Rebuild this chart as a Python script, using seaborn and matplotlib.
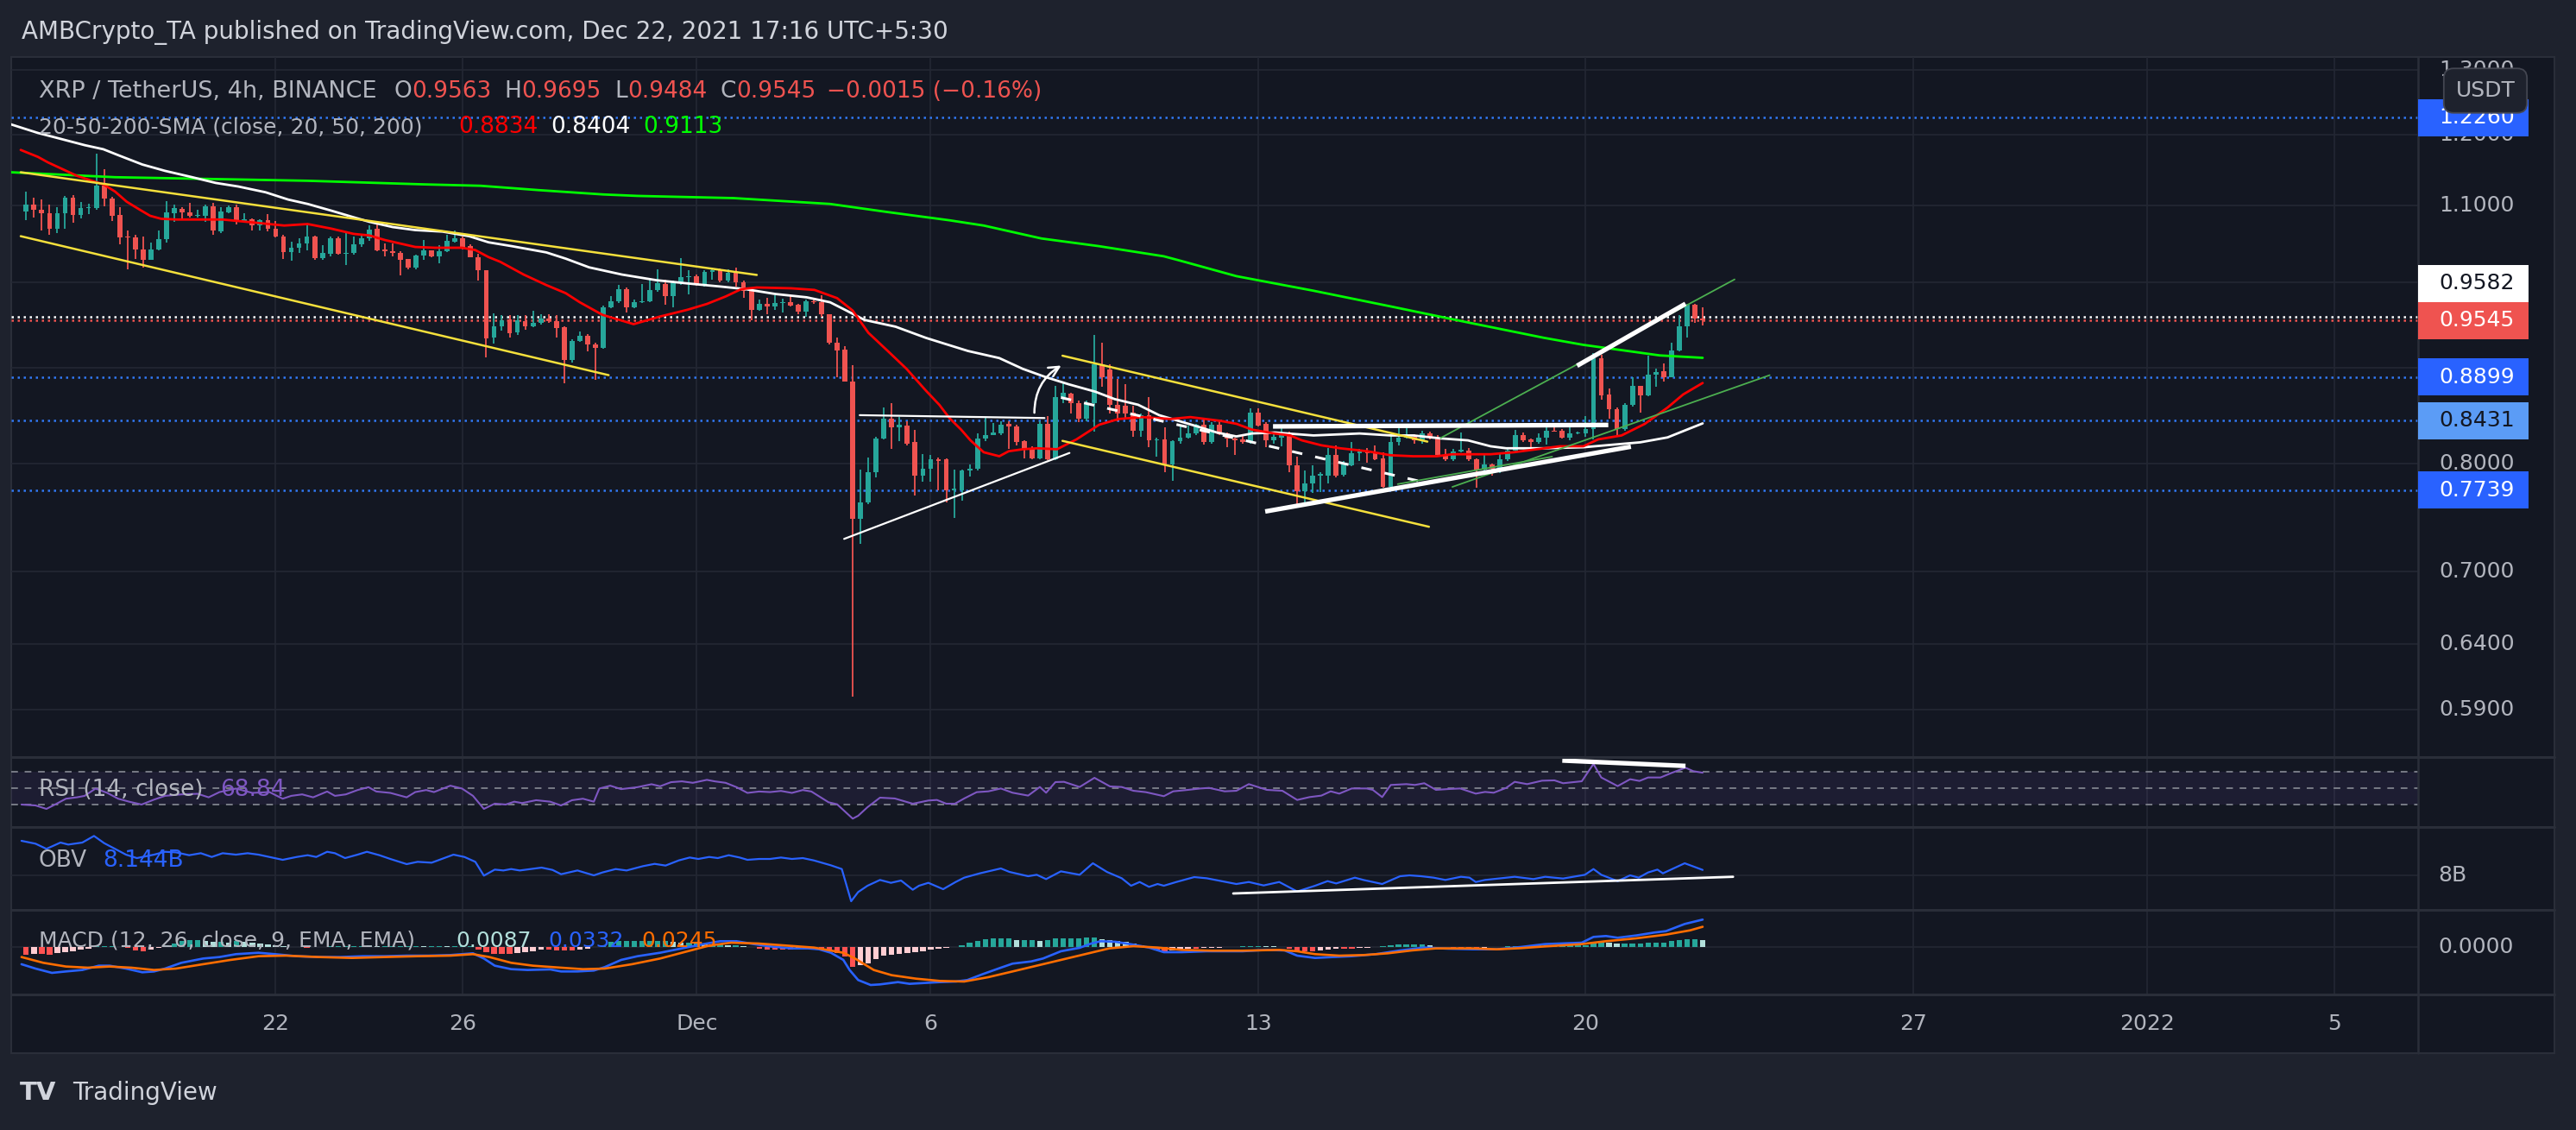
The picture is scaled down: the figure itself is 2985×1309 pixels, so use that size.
import numpy as np
import pandas as pd
import matplotlib
matplotlib.use("Agg")
import matplotlib.pyplot as plt
import matplotlib.transforms as mtransforms
from matplotlib.patches import Rectangle
from matplotlib.lines import Line2D
from matplotlib.ticker import NullLocator, NullFormatter
import seaborn as sns

# ---------------- data (XRP/USDT 4h, Binance) ----------------
# one candle every 4h starting 2021-11-16 16:00, rows of 12 candles
first_candle = "2021-11-16 16:00"
opens = [
    1.092, 1.101, 1.094, 1.089, 1.069, 1.089, 1.110, 1.087, 1.096, 1.097, 1.127, 1.109,
    1.087, 1.058, 1.057, 1.042, 1.029, 1.042, 1.055, 1.090, 1.095, 1.091, 1.086, 1.086,
    1.099, 1.065, 1.091, 1.098, 1.078, 1.081, 1.073, 1.080, 1.069, 1.059, 1.038, 1.044,
    1.049, 1.059, 1.031, 1.036, 1.056, 1.036, 1.037, 1.048, 1.056, 1.069, 1.041, 1.039,
    1.037, 1.030, 1.019, 1.034, 1.041, 1.033, 1.040, 1.052, 1.056, 1.046, 1.032, 1.015,
    0.934, 0.947, 0.956, 0.940, 0.954, 0.947, 0.951, 0.957, 0.954, 0.946, 0.909, 0.930,
    0.936, 0.926, 0.923, 0.970, 0.977, 0.992, 0.970, 0.976, 0.977, 0.991, 0.998, 0.983,
    1.000, 1.007, 1.008, 0.997, 1.013, 1.015, 1.002, 1.012, 1.000, 0.990, 0.967, 0.974,
    0.971, 0.975, 0.976, 0.973, 0.965, 0.977, 0.976, 0.962, 0.928, 0.921, 0.885, 0.747,
    0.762, 0.791, 0.825, 0.845, 0.836, 0.838, 0.821, 0.788, 0.795, 0.804, 0.804, 0.774,
    0.774, 0.793, 0.795, 0.825, 0.828, 0.830, 0.840, 0.837, 0.822, 0.815, 0.805, 0.840,
    0.804, 0.868, 0.872, 0.862, 0.845, 0.862, 0.904, 0.898, 0.860, 0.859, 0.852, 0.833,
    0.849, 0.823, 0.824, 0.799, 0.822, 0.826, 0.830, 0.839, 0.821, 0.839, 0.830, 0.825,
    0.824, 0.821, 0.852, 0.840, 0.823, 0.826, 0.828, 0.798, 0.773, 0.780, 0.788, 0.788,
    0.808, 0.789, 0.798, 0.810, 0.812, 0.811, 0.805, 0.777, 0.821, 0.826, 0.827, 0.823,
    0.830, 0.826, 0.808, 0.804, 0.812, 0.813, 0.804, 0.794, 0.799, 0.795, 0.804, 0.813,
    0.828, 0.824, 0.821, 0.826, 0.833, 0.833, 0.826, 0.830, 0.830, 0.835, 0.911, 0.871,
    0.855, 0.835, 0.860, 0.880, 0.870, 0.893, 0.896, 0.890, 0.920, 0.947, 0.973, 0.9563,
]
highs = [
    1.119, 1.110, 1.108, 1.101, 1.098, 1.113, 1.114, 1.105, 1.102, 1.172, 1.150, 1.112,
    1.098, 1.067, 1.061, 1.059, 1.051, 1.067, 1.106, 1.101, 1.098, 1.103, 1.094, 1.101,
    1.103, 1.098, 1.100, 1.101, 1.090, 1.082, 1.081, 1.088, 1.079, 1.061, 1.052, 1.056,
    1.074, 1.060, 1.047, 1.058, 1.058, 1.065, 1.059, 1.060, 1.073, 1.076, 1.050, 1.050,
    1.039, 1.030, 1.035, 1.054, 1.041, 1.047, 1.061, 1.066, 1.059, 1.048, 1.036, 1.015,
    0.963, 0.961, 0.961, 0.961, 0.961, 0.966, 0.962, 0.962, 0.961, 0.947, 0.932, 0.941,
    0.938, 0.928, 0.972, 0.983, 0.997, 0.994, 0.979, 0.998, 1.004, 1.016, 1.004, 1.002,
    1.031, 1.015, 1.010, 1.015, 1.019, 1.018, 1.016, 1.019, 1.002, 0.992, 0.979, 0.981,
    0.984, 0.980, 0.984, 0.974, 0.979, 0.981, 0.984, 0.962, 0.934, 0.925, 0.903, 0.794,
    0.806, 0.827, 0.857, 0.862, 0.847, 0.843, 0.834, 0.809, 0.808, 0.806, 0.805, 0.794,
    0.794, 0.799, 0.830, 0.846, 0.841, 0.843, 0.843, 0.839, 0.823, 0.817, 0.843, 0.848,
    0.880, 0.883, 0.873, 0.864, 0.864, 0.937, 0.928, 0.904, 0.888, 0.882, 0.859, 0.851,
    0.868, 0.826, 0.836, 0.823, 0.839, 0.838, 0.840, 0.844, 0.842, 0.844, 0.831, 0.826,
    0.828, 0.856, 0.856, 0.842, 0.831, 0.838, 0.832, 0.807, 0.793, 0.798, 0.791, 0.815,
    0.818, 0.802, 0.821, 0.814, 0.815, 0.818, 0.811, 0.828, 0.840, 0.836, 0.829, 0.833,
    0.832, 0.828, 0.814, 0.814, 0.831, 0.815, 0.805, 0.810, 0.800, 0.810, 0.816, 0.834,
    0.831, 0.825, 0.830, 0.836, 0.840, 0.835, 0.837, 0.832, 0.848, 0.917, 0.915, 0.877,
    0.857, 0.862, 0.890, 0.880, 0.914, 0.899, 0.905, 0.928, 0.961, 0.974, 0.974, 0.9695,
]
lows = [
    1.080, 1.084, 1.067, 1.061, 1.063, 1.069, 1.077, 1.082, 1.088, 1.094, 1.099, 1.079,
    1.048, 1.017, 1.030, 1.019, 1.028, 1.041, 1.051, 1.078, 1.082, 1.084, 1.084, 1.078,
    1.061, 1.063, 1.090, 1.075, 1.077, 1.067, 1.066, 1.065, 1.057, 1.030, 1.027, 1.037,
    1.041, 1.029, 1.029, 1.033, 1.035, 1.022, 1.035, 1.045, 1.053, 1.039, 1.033, 1.033,
    1.009, 1.016, 1.017, 1.028, 1.032, 1.024, 1.038, 1.051, 1.042, 1.032, 1.002, 0.912,
    0.927, 0.942, 0.934, 0.937, 0.943, 0.946, 0.949, 0.951, 0.934, 0.883, 0.906, 0.929,
    0.919, 0.887, 0.922, 0.969, 0.975, 0.964, 0.969, 0.975, 0.976, 0.989, 0.973, 0.970,
    0.997, 0.986, 0.996, 0.995, 1.004, 1.000, 1.000, 0.995, 0.981, 0.955, 0.966, 0.962,
    0.967, 0.964, 0.971, 0.962, 0.959, 0.974, 0.959, 0.926, 0.890, 0.885, 0.600, 0.724,
    0.761, 0.786, 0.824, 0.814, 0.822, 0.818, 0.769, 0.782, 0.782, 0.774, 0.762, 0.748,
    0.764, 0.787, 0.793, 0.822, 0.828, 0.828, 0.814, 0.818, 0.805, 0.804, 0.804, 0.803,
    0.803, 0.862, 0.851, 0.842, 0.843, 0.832, 0.879, 0.851, 0.843, 0.844, 0.827, 0.827,
    0.816, 0.807, 0.791, 0.783, 0.820, 0.825, 0.828, 0.819, 0.820, 0.828, 0.816, 0.808,
    0.820, 0.820, 0.837, 0.816, 0.820, 0.817, 0.791, 0.759, 0.759, 0.771, 0.772, 0.780,
    0.786, 0.787, 0.797, 0.802, 0.801, 0.803, 0.776, 0.776, 0.818, 0.825, 0.820, 0.820,
    0.824, 0.807, 0.802, 0.802, 0.811, 0.802, 0.776, 0.793, 0.788, 0.790, 0.802, 0.812,
    0.821, 0.816, 0.820, 0.819, 0.832, 0.825, 0.823, 0.829, 0.827, 0.824, 0.865, 0.845,
    0.828, 0.833, 0.858, 0.852, 0.869, 0.879, 0.885, 0.890, 0.919, 0.934, 0.951, 0.9484,
]
closes = [
    1.101, 1.094, 1.089, 1.069, 1.089, 1.110, 1.087, 1.097, 1.098, 1.127, 1.109, 1.086,
    1.057, 1.057, 1.042, 1.029, 1.042, 1.055, 1.091, 1.096, 1.091, 1.086, 1.087, 1.099,
    1.066, 1.092, 1.098, 1.078, 1.081, 1.073, 1.080, 1.069, 1.058, 1.038, 1.044, 1.050,
    1.059, 1.031, 1.037, 1.056, 1.036, 1.037, 1.048, 1.056, 1.068, 1.041, 1.040, 1.037,
    1.029, 1.019, 1.034, 1.041, 1.033, 1.040, 1.053, 1.056, 1.044, 1.032, 1.015, 0.933,
    0.947, 0.955, 0.939, 0.955, 0.947, 0.951, 0.957, 0.954, 0.945, 0.909, 0.930, 0.936,
    0.926, 0.923, 0.970, 0.977, 0.992, 0.970, 0.976, 0.977, 0.991, 0.999, 0.983, 1.000,
    1.007, 1.008, 0.997, 1.013, 1.015, 1.002, 1.012, 1.000, 0.990, 0.967, 0.974, 0.971,
    0.975, 0.976, 0.972, 0.965, 0.977, 0.976, 0.962, 0.928, 0.920, 0.885, 0.747, 0.762,
    0.791, 0.825, 0.845, 0.836, 0.839, 0.820, 0.788, 0.795, 0.804, 0.802, 0.774, 0.775,
    0.793, 0.795, 0.825, 0.828, 0.831, 0.839, 0.837, 0.821, 0.814, 0.805, 0.840, 0.804,
    0.868, 0.873, 0.862, 0.845, 0.862, 0.904, 0.890, 0.860, 0.851, 0.851, 0.833, 0.849,
    0.823, 0.824, 0.799, 0.822, 0.826, 0.830, 0.839, 0.821, 0.839, 0.829, 0.825, 0.823,
    0.821, 0.852, 0.838, 0.823, 0.827, 0.828, 0.798, 0.773, 0.780, 0.788, 0.789, 0.808,
    0.788, 0.799, 0.810, 0.812, 0.810, 0.804, 0.777, 0.821, 0.826, 0.827, 0.823, 0.830,
    0.826, 0.808, 0.804, 0.812, 0.813, 0.804, 0.794, 0.799, 0.795, 0.804, 0.813, 0.828,
    0.823, 0.821, 0.826, 0.833, 0.832, 0.826, 0.830, 0.831, 0.835, 0.911, 0.870, 0.855,
    0.835, 0.860, 0.880, 0.870, 0.893, 0.895, 0.890, 0.920, 0.947, 0.973, 0.9563, 0.9545,
]
macd_hist = [
    -0.009, -0.008, -0.008, -0.009, -0.007, -0.006, -0.005, -0.003, -0.002, 0.001, 0.001, 0.001,
    0.000, -0.001, -0.004, -0.005, -0.003, -0.001, 0.002, 0.004, 0.007, 0.008, 0.008, 0.007,
    0.006, 0.006, 0.005, 0.007, 0.006, 0.005, 0.004, 0.003, 0.002, 0.001, 0.0005, -0.0005,
    -0.001, -0.0005, 0.0005, 0.001, 0.001, 0.001, 0.001, 0.001, 0.002, 0.001, 0.001, 0.001,
    0.001, 0.001, 0.0015, 0.001, 0.001, 0.001, 0.0008, 0.0008, 0.001, 0.001, -0.003, -0.006,
    -0.008, -0.008, -0.008, -0.007, -0.006, -0.005, -0.003, -0.003, -0.004, -0.004, -0.004, -0.003,
    -0.002, 0.000, 0.002, 0.006, 0.007, 0.007, 0.007, 0.007, 0.007, 0.007, 0.007, 0.006,
    0.005, 0.005, 0.005, 0.003, 0.003, 0.003, 0.002, 0.002, 0.001, 0.000, -0.002, -0.003,
    -0.003, -0.003, -0.003, -0.002, -0.002, -0.002, -0.002, -0.004, -0.007, -0.012, -0.024, -0.022,
    -0.020, -0.015, -0.011, -0.009, -0.008, -0.007, -0.006, -0.005, -0.003, -0.002, -0.001, -0.0005,
    0.002, 0.005, 0.007, 0.009, 0.010, 0.010, 0.010, 0.008, 0.008, 0.008, 0.007, 0.008,
    0.010, 0.010, 0.010, 0.010, 0.011, 0.011, 0.009, 0.008, 0.007, 0.006, 0.004, 0.002,
    -0.001, -0.004, -0.005, -0.004, -0.003, -0.002, -0.002, -0.001, -0.0008, -0.0007, -0.0005, -0.0005,
    0.0008, 0.001, 0.0012, 0.001, 0.0008, 0.0005, -0.002, -0.005, -0.005, -0.005, -0.004, -0.003,
    -0.002, -0.002, -0.002, -0.0015, -0.0008, -0.0005, 0.0008, 0.002, 0.003, 0.003, 0.003, 0.003,
    0.002, 0.0005, -0.0005, -0.0008, -0.001, -0.001, -0.001, -0.0008, -0.0005, 0.0005, 0.001, 0.0015,
    0.0015, 0.002, 0.002, 0.002, 0.002, 0.002, 0.002, 0.002, 0.002, 0.006, 0.006, 0.005,
    0.004, 0.004, 0.004, 0.004, 0.005, 0.005, 0.005, 0.007, 0.008, 0.009, 0.009, 0.0087,
]

# indicator curves: position in 4h bars from 2021-11-22 00:00, and value
sma20_bar = [-32.7, -30.5, -29.2, -25.5, -23.3, -22.1, -20.6, -19.1, -17.4, -16.1, -14.7, -12.7,
             -9.7, -6.8, -4.8, -1.8, 1.1, 4.1, 7.1, 10.0, 12.0, 14.0, 17.9, 20.4, 23.9, 25.6,
             27.3, 28.8, 31.8, 34.7, 37.2, 39.0, 41.9, 45.9, 49.3, 52.8, 55.3, 57.7, 59.7, 61.7,
             66.1, 69.1, 72.0, 74.0, 76.0, 78.5, 80.9, 83.4, 85.1, 86.4, 87.9, 89.1, 90.8, 92.8,
             94.0, 95.8, 97.7, 100.2, 102.7, 105.6, 108.1, 111.1, 114.8, 117.3, 121.2, 123.2,
             125.2, 128.1, 130.1, 131.6, 134.1, 136.5, 140.0, 143.0, 145.9, 148.9, 150.9, 152.9,
             155.8, 158.8, 161.7, 164.7, 167.7, 169.6, 172.6, 175.6, 178.5, 180.5, 183.0]
sma20_val = [1.178, 1.168, 1.160, 1.141, 1.133, 1.129, 1.119, 1.105, 1.094, 1.086, 1.082, 1.081,
             1.081, 1.081, 1.079, 1.076, 1.073, 1.075, 1.069, 1.062, 1.060, 1.054, 1.045, 1.044,
             1.044, 1.041, 1.032, 1.026, 1.010, 0.997, 0.987, 0.976, 0.961, 0.950, 0.959, 0.967,
             0.974, 0.983, 0.992, 0.994, 0.993, 0.991, 0.981, 0.966, 0.940, 0.919, 0.899, 0.875,
             0.860, 0.846, 0.834, 0.823, 0.811, 0.807, 0.812, 0.814, 0.815, 0.814, 0.824, 0.839,
             0.845, 0.847, 0.845, 0.847, 0.843, 0.840, 0.834, 0.830, 0.828, 0.823, 0.818, 0.815,
             0.812, 0.808, 0.807, 0.807, 0.809, 0.809, 0.809, 0.811, 0.814, 0.817, 0.817, 0.824,
             0.828, 0.840, 0.857, 0.871, 0.8834]
sma50_bar = [-34.0, -30.5, -27.5, -24.5, -22.1, -20.1, -17.1, -14.2, -10.7, -7.7, -4.8, -1.3,
             1.6, 4.1, 7.1, 10.0, 12.0, 15.0, 17.9, 21.4, 24.8, 27.3, 30.3, 34.7, 37.2, 40.2,
             44.4, 48.8, 52.8, 57.2, 60.2, 64.1, 68.1, 71.1, 73.0, 75.5, 79.5, 83.4, 85.9, 88.8,
             92.8, 95.8, 98.7, 101.7, 105.1, 107.6, 110.6, 113.3, 115.8, 118.3, 120.7, 123.2,
             125.2, 128.1, 133.1, 139.0, 143.0, 145.9, 149.4, 152.9, 155.8, 157.8, 162.7, 167.7,
             170.6, 175.0, 178.5, 181.0, 183.0]
sma50_val = [1.216, 1.203, 1.194, 1.185, 1.179, 1.170, 1.157, 1.148, 1.139, 1.131, 1.126, 1.118,
             1.108, 1.102, 1.093, 1.084, 1.078, 1.071, 1.067, 1.065, 1.059, 1.051, 1.046, 1.038,
             1.030, 1.019, 1.010, 1.003, 0.999, 0.995, 0.992, 0.986, 0.982, 0.976, 0.967, 0.955,
             0.947, 0.934, 0.927, 0.919, 0.911, 0.899, 0.890, 0.882, 0.874, 0.866, 0.860, 0.849,
             0.843, 0.837, 0.831, 0.827, 0.830, 0.831, 0.828, 0.830, 0.828, 0.828, 0.825, 0.823,
             0.817, 0.815, 0.815, 0.816, 0.818, 0.821, 0.826, 0.834, 0.8404]
sma200_bar = [-34.0, -20.6, -10.7, 4.1, 18.9, 26.3, 33.7, 42.0, 46.4, 58.7, 71.1, 78.5, 86.4,
              90.8, 98.2, 105.6, 113.9, 115.8, 123.2, 133.1, 143.0, 152.9, 162.7, 167.7, 172.6,
              177.5, 183.0]
sma200_val = [1.146, 1.139, 1.137, 1.134, 1.129, 1.127, 1.121, 1.115, 1.113, 1.110, 1.102, 1.091,
              1.080, 1.073, 1.056, 1.046, 1.033, 1.028, 1.008, 0.990, 0.971, 0.952, 0.934, 0.926,
              0.920, 0.914, 0.9113]

rsi_bar = [-32.6, -30.8, -29.4, -28.3, -26.9, -25.5, -24.5, -23.1, -21.6, -20.2,
           -18.8, -17.2, -15.6, -14.2, -12.1, -10.0, -8.6, -7.2, -5.1, -3.0,
           -0.8, 0.9, 2.0, 3.4, 4.8, 6.6, 7.6, 9.0, 10.5, 11.9,
           12.9, 14.7, 16.8, 17.9, 19.3, 20.3, 22.4, 23.9, 25.3, 26.7,
           28.1, 29.5, 30.6, 31.6, 33.4, 35.2, 36.6, 38.0, 39.4, 40.8,
           41.5, 42.9, 44.3, 46.4, 48.2, 49.3, 50.7, 52.1, 53.5, 55.3,
           56.3, 57.7, 59.1, 60.5, 62.0, 63.4, 64.8, 66.2, 67.6, 68.7,
           69.7, 70.9, 72.0, 74.0, 74.7, 75.9, 77.5, 79.4, 81.7, 83.7,
           84.8, 86.0, 87.1, 88.3, 89.9, 91.4, 93.0, 94.5, 96.5, 98.0,
           98.8, 100.0, 101.1, 103.1, 105.0, 107.0, 108.5, 110.0, 111.6, 113.9,
           115.1, 117.0, 118.6, 119.7, 121.7, 123.2, 124.8, 127.1, 129.1, 131.0,
           132.6, 134.1, 135.3, 136.4, 138.0, 139.9, 140.7, 141.9, 143.0, 145.0,
           146.1, 147.3, 148.8, 150.4, 151.9, 153.9, 155.1, 156.2, 157.8, 158.9,
           160.5, 162.4, 164.0, 165.1, 167.5, 169.0, 170.0, 172.1, 173.7, 174.9,
           176.0, 177.6, 179.1, 180.8, 181.8, 183.0]
rsi_val = [30.0, 28.9, 24.7, 30.0, 37.1, 38.8, 40.6, 49.5, 44.2, 37.1,
           33.5, 30.0, 36.0, 40.6, 42.4, 43.1, 38.8, 45.2, 49.5, 44.2,
           45.2, 37.1, 40.6, 42.4, 38.8, 45.9, 40.6, 42.4, 47.7, 51.2,
           45.9, 44.2, 38.8, 45.2, 47.7, 45.2, 53.0, 49.5, 40.6, 24.7,
           31.1, 30.0, 33.5, 31.8, 35.3, 33.5, 28.9, 35.3, 37.1, 33.5,
           49.5, 53.0, 48.8, 51.2, 54.8, 52.3, 57.3, 58.3, 56.5, 60.1,
           58.3, 56.5, 51.2, 44.2, 45.9, 45.2, 46.6, 44.2, 47.7, 45.9,
           40.0, 32.8, 30.3, 12.8, 16.3, 26.8, 38.4, 37.4, 31.0, 34.9,
           35.6, 31.0, 31.0, 37.4, 45.1, 46.1, 49.6, 44.4, 40.9, 51.4,
           44.4, 57.4, 57.7, 51.4, 62.6, 52.1, 51.4, 46.8, 45.1, 40.2,
           46.1, 47.9, 49.6, 50.3, 46.1, 46.8, 54.9, 47.9, 46.8, 35.6,
           39.1, 40.9, 46.1, 43.3, 49.6, 49.6, 47.9, 39.1, 53.9, 54.9,
           53.9, 56.0, 47.9, 48.9, 49.6, 43.3, 45.4, 44.4, 50.3, 57.7,
           54.9, 59.1, 59.5, 56.0, 58.4, 79.5, 63.0, 52.5, 60.9, 58.8,
           63.0, 63.0, 68.9, 74.9, 70.7, 68.84]

obv_bar = [-32.6, -30.8, -29.4, -27.6, -26.6, -24.8, -23.3, -22.0, -20.6, -19.2,
           -17.8, -15.6, -14.2, -12.8, -11.1, -9.6, -8.2, -6.8, -5.1, -3.6,
           -2.2, -0.8, 0.9, 2.7, 4.1, 5.2, 6.6, 7.6, 8.9, 10.5,
           11.7, 13.3, 14.7, 16.8, 18.2, 20.0, 21.0, 22.8, 24.2, 25.6,
           26.7, 28.1, 29.2, 30.2, 31.3, 32.7, 34.1, 35.5, 36.6, 38.7,
           40.8, 41.9, 43.6, 45.0, 47.1, 48.6, 50.0, 51.7, 53.1, 54.2,
           55.6, 56.7, 58.1, 59.5, 60.5, 62.0, 63.4, 64.8, 66.2, 67.6,
           69.0, 71.2, 72.6, 73.8, 74.7, 75.9, 77.5, 78.9, 80.2, 81.7,
           82.5, 83.7, 85.6, 87.2, 88.3, 90.3, 93.0, 94.1, 96.5, 97.6,
           98.8, 100.7, 103.1, 104.8, 106.6, 108.5, 109.7, 110.8, 112.0, 113.1,
           113.9, 115.5, 117.8, 119.4, 121.3, 123.2, 124.8, 126.7, 128.7, 131.0,
           133.3, 134.9, 136.0, 138.4, 139.5, 141.9, 144.2, 145.4, 146.9, 148.5,
           150.0, 152.0, 153.1, 153.9, 155.1, 158.9, 161.3, 162.8, 165.1, 167.9,
           169.0, 170.0, 172.1, 173.7, 174.8, 176.0, 177.2, 177.9, 180.7, 183.0]
obv_val = [8.914, 8.838, 8.701, 8.868, 8.815, 8.868, 9.043, 8.853, 8.701, 8.548,
           8.457, 8.548, 8.624, 8.609, 8.533, 8.586, 8.487, 8.586, 8.548, 8.586,
           8.548, 8.487, 8.411, 8.487, 8.533, 8.487, 8.624, 8.586, 8.457, 8.548,
           8.624, 8.533, 8.434, 8.297, 8.358, 8.335, 8.411, 8.548, 8.487, 8.358,
           7.992, 8.152, 8.129, 8.167, 8.129, 8.167, 8.205, 8.144, 8.030, 8.129,
           8.000, 8.076, 8.167, 8.129, 8.243, 8.304, 8.259, 8.396, 8.472, 8.434,
           8.487, 8.457, 8.533, 8.472, 8.411, 8.434, 8.434, 8.472, 8.434, 8.457,
           8.396, 8.266, 8.167, 7.314, 7.558, 7.725, 7.878, 7.802, 7.863, 7.619,
           7.725, 7.802, 7.634, 7.824, 7.939, 8.053, 8.183, 8.091, 7.977, 8.015,
           7.901, 8.106, 8.015, 8.320, 8.091, 7.923, 7.725, 7.824, 7.695, 7.771,
           7.725, 7.824, 7.954, 7.923, 7.847, 7.771, 7.824, 7.733, 7.824, 7.573,
           7.725, 7.847, 7.786, 7.939, 7.878, 7.771, 7.977, 8.000, 7.977, 7.939,
           7.878, 7.962, 7.939, 7.824, 7.878, 7.962, 7.901, 7.962, 7.916, 8.015,
           8.167, 8.015, 7.847, 8.000, 7.939, 8.076, 8.152, 8.053, 8.320, 8.144]

macd_bar = [-32.6, -30.8, -28.7, -26.9, -24.8, -22.7, -21.3, -19.2, -17.1, -15.6,
            -14.2, -12.1, -9.3, -7.2, -5.1, -2.2, -0.1, 2.7, 5.5, 8.3,
            11.2, 14.0, 16.8, 19.6, 22.4, 25.3, 26.7, 28.1, 30.2, 32.3,
            35.2, 36.6, 38.7, 40.8, 42.2, 44.3, 46.4, 49.3, 52.1, 54.9,
            57.0, 59.1, 61.3, 63.4, 66.2, 68.3,
            69.7, 71.2, 72.8, 73.6, 74.7, 76.3, 77.5, 79.8, 81.3, 83.3,
            85.2, 87.2, 88.7, 90.6, 93.0, 94.5, 96.9, 98.4, 100.7, 103.1,
            104.6, 105.8, 107.7, 110.0, 112.0, 113.9, 116.2, 119.4, 124.0, 127.1,
            129.4, 131.0, 133.3, 135.6, 138.0, 141.1, 144.2, 147.3, 150.4, 153.5,
            156.6, 159.7, 162.8, 167.5, 169.0, 170.6, 172.1, 174.5, 176.8, 178.3,
            180.7, 183.0]
macd_val = [-0.0209, -0.0262, -0.0314, -0.0297, -0.0279, -0.0227, -0.0227, -0.0262, -0.0307, -0.0297,
            -0.0262, -0.0192, -0.0140, -0.0122, -0.0087, -0.0070, -0.0087, -0.0112, -0.0122, -0.0122,
            -0.0112, -0.0112, -0.0105, -0.0105, -0.0098, -0.0077, -0.0140, -0.0227, -0.0269, -0.0279,
            -0.0272, -0.0297, -0.0297, -0.0286, -0.0244, -0.0157, -0.0112, -0.0070, -0.0017, 0.0035,
            0.0070, 0.0070, 0.0035, 0.0007, -0.0017, -0.0017,
            -0.0028, -0.0070, -0.0157, -0.0279, -0.0401, -0.0461, -0.0454, -0.0426, -0.0447, -0.0436,
            -0.0426, -0.0419, -0.0401, -0.0332, -0.0251, -0.0202, -0.0175, -0.0140, -0.0052, -0.0010,
            0.0042, 0.0070, 0.0063, 0.0028, -0.0007, -0.0063, -0.0063, -0.0052, -0.0052, -0.0035,
            -0.0042, -0.0105, -0.0133, -0.0122, -0.0112, -0.0087, -0.0042, -0.0007, -0.0021, -0.0028,
            -0.0028, 0.0000, 0.0035, 0.0052, 0.0122, 0.0133, 0.0112, 0.0140, 0.0175, 0.0192,
            0.0279, 0.0332]
signal_bar = [-32.6, -29.8, -26.9, -24.1, -21.3, -18.5, -15.6, -12.8, -9.3, -5.8,
              -2.2, 1.3, 5.5, 9.8, 14.0, 18.2, 22.4, 25.3, 27.4, 30.2,
              33.0, 36.6, 39.4, 42.2, 45.7, 49.3, 52.1, 55.6, 58.4, 61.9,
              65.5, 69.0,
              72.8, 74.3, 76.7, 79.0, 82.1, 85.2, 88.3, 91.4, 94.5, 97.6,
              100.7, 103.8, 106.9, 110.0, 113.1, 116.2, 120.1, 124.0, 128.7, 131.0,
              133.3, 136.4, 139.5, 142.6, 145.7, 148.8, 153.5, 156.6, 159.7, 162.8,
              167.5, 170.6, 174.5, 178.3, 181.4, 183.0]
signal_val = [-0.0122, -0.0192, -0.0237, -0.0251, -0.0237, -0.0251, -0.0279, -0.0262, -0.0209, -0.0157,
              -0.0112, -0.0105, -0.0122, -0.0133, -0.0122, -0.0112, -0.0105, -0.0087, -0.0122, -0.0192,
              -0.0227, -0.0251, -0.0269, -0.0262, -0.0209, -0.0140, -0.0070, 0.0017, 0.0052, 0.0042,
              0.0017, -0.0007,
              -0.0070, -0.0140, -0.0279, -0.0342, -0.0384, -0.0412, -0.0419, -0.0366, -0.0297, -0.0227,
              -0.0157, -0.0087, -0.0017, 0.0010, -0.0007, -0.0035, -0.0045, -0.0045, -0.0035, -0.0052,
              -0.0087, -0.0105, -0.0098, -0.0077, -0.0042, -0.0017, -0.0017, -0.0028, -0.0014, 0.0007,
              0.0035, 0.0070, 0.0105, 0.0150, 0.0202, 0.0245]

# drawn trendlines: (bar0, price0, bar1, price1)
yellow_lines = [(-32.7, 1.146, 61.7, 1.0095), (-32.7, 1.059, 42.7, 0.892),
                (100.9, 0.9137, 147.7, 0.8217), (100.9, 0.8225, 147.9, 0.7397)]
white_thin_lines = [(72.9, 0.7287, 101.8, 0.8103), (74.9, 0.849, 98.6, 0.846)]
white_dashed_lines = [(100.7, 0.8677, 146.7, 0.7825)]
white_thick_lines = [(127.9, 0.8373, 170.9, 0.8388), (126.9, 0.7538, 173.8, 0.8166),
                     (166.9, 0.9024, 180.8, 0.9742)]
green_lines = [(149.4, 0.8254, 187.1, 1.004), (150.9, 0.777, 191.6, 0.892),
               (143.9, 0.7797, 163.7, 0.8066)]
arrow_line = (97.3, 0.849, 101.0, 0.904)
rsi_line = (165.0, 83.7, 180.8, 77.1)
obv_line = (122.8, 7.520, 186.9, 7.962)

blue_levels = [1.2260, 0.8899, 0.8431, 0.7739]
price_ticks = [1.3, 1.2, 1.1, 1.0, 0.9, 0.8, 0.7, 0.64, 0.59]
# 1.0 and 0.9 sit fully under the level badges, so only these are printed
shown_ticks = [1.3, 1.2, 1.1, 0.8, 0.7, 0.64, 0.59]
date_ticks = ["2021-11-22", "2021-11-26", "2021-12-01", "2021-12-06", "2021-12-13",
              "2021-12-20", "2021-12-27", "2022-01-01", "2022-01-05"]
date_labels = ["22", "26", "Dec", "6", "13", "20", "27", "2022", "5"]

# ---------------- style ----------------
sns.set_theme(style="dark")
plt.rcParams['font.family'] = ['DejaVu Sans']

W, H = 2985, 1309
OUTER = "#1e222d"
PANE = "#131722"
GRID = "#232733"
SEP = "#2a2e39"
TXT = "#b2b5be"
UP = "#26a69a"
DOWN = "#ef5350"
BLUE = "#2962ff"
FS = 18

fig = plt.figure(figsize=(W / 100, H / 100), dpi=100, facecolor=OUTER)


def rect(x0, y0, x1, y1):
    return [x0 / W, 1 - y1 / H, (x1 - x0) / W, (y1 - y0) / H]


fig.patches.append(Rectangle((13 / W, 1 - 1220 / H), (2960 - 13) / W, (1220 - 66) / H,
                             transform=fig.transFigure, fc=PANE, ec=SEP, lw=1.5, zorder=-5))

ax = fig.add_axes(rect(13, 66, 2802, 877))
ax_rsi = fig.add_axes(rect(13, 877, 2802, 958), sharex=ax)
ax_obv = fig.add_axes(rect(13, 958, 2802, 1054), sharex=ax)
ax_macd = fig.add_axes(rect(13, 1054, 2802, 1152), sharex=ax)

ref = pd.Timestamp("2021-11-22")
four_h = pd.Timedelta(hours=4)
times = pd.date_range(first_candle, periods=len(closes), freq="4h")
xb = ((times - ref) / four_h).to_numpy(dtype=float)
tick_x = [(pd.Timestamp(d) - ref) / four_h for d in date_ticks]
x_lo = (pd.Timestamp("2021-11-16 08:20") - ref) / four_h
x_hi = (pd.Timestamp("2022-01-06 19:00") - ref) / four_h

# grid
for a in (ax, ax_rsi, ax_obv, ax_macd):
    for t in tick_x:
        a.axvline(t, color=GRID, lw=1.2, zorder=0)
ax.set_yscale("log")
for p in price_ticks:
    ax.axhline(p, color=GRID, lw=1.2, zorder=0)

# candles
o = np.array(opens); h = np.array(highs); l = np.array(lows); c = np.array(closes)
ccol = np.where(c >= o, UP, DOWN)
ax.vlines(xb, l, h, colors=ccol, lw=1.3, zorder=3)
ax.bar(xb, np.maximum(np.abs(c - o), 0.0012), bottom=np.minimum(o, c), width=0.64,
       color=ccol, lw=0, zorder=3)

# moving averages
sns.lineplot(x=sma200_bar, y=sma200_val, ax=ax, color="#00ff00", lw=2.0, estimator=None, sort=False, zorder=4)
sns.lineplot(x=sma50_bar, y=sma50_val, ax=ax, color="#ffffff", lw=2.0, estimator=None, sort=False, zorder=4)
sns.lineplot(x=sma20_bar, y=sma20_val, ax=ax, color="#ff0000", lw=2.0, estimator=None, sort=False, zorder=4)

# horizontal levels
for p in blue_levels:
    ax.axhline(p, color="#3179f5", lw=1.8, ls=(0, (1, 1.8)), zorder=2)
ax.axhline(0.9582, color="#ffffff", lw=1.8, ls=(0, (1, 1.8)), zorder=2)
ax.axhline(0.9545, color=DOWN, lw=1.8, ls=(0, (1, 1.8)), zorder=2)

# drawings
for x0, y0, x1, y1 in yellow_lines:
    ax.plot([x0, x1], [y0, y1], color="#f5e03c", lw=1.8, zorder=5)
for x0, y0, x1, y1 in white_thin_lines:
    ax.plot([x0, x1], [y0, y1], color="#ffffff", lw=1.6, zorder=5)
for x0, y0, x1, y1 in white_dashed_lines:
    ax.plot([x0, x1], [y0, y1], color="#ffffff", lw=2.2, ls=(0, (4, 5)), zorder=5)
for x0, y0, x1, y1 in green_lines:
    ax.plot([x0, x1], [y0, y1], color="#4caf50", lw=1.3, zorder=5)
for x0, y0, x1, y1 in white_thick_lines:
    ax.plot([x0, x1], [y0, y1], color="#ffffff", lw=3.8, zorder=6, solid_capstyle="butt")
ax.annotate("", xy=arrow_line[2:], xytext=arrow_line[:2],
            arrowprops=dict(arrowstyle="->,head_length=0.7,head_width=0.35", color="white",
                            lw=1.8, connectionstyle="arc3,rad=-0.3"), zorder=6)
ax.set_ylim(0.5566, 1.3213)

# RSI pane
ax_rsi.axhspan(30, 70, color="#7e57c2", alpha=0.1, lw=0, zorder=0)
for lv in (70, 50, 30):
    ax_rsi.axhline(lv, color="#787b86", lw=1.4, ls=(0, (4, 4)), zorder=1)
sns.lineplot(x=rsi_bar, y=rsi_val, ax=ax_rsi, color="#7e57c2", lw=1.5, estimator=None, sort=False, zorder=3)
ax_rsi.plot(rsi_line[0::2], rsi_line[1::2], color="white", lw=3.8, zorder=4, solid_capstyle="butt")
ax_rsi.set_ylim(2.6, 87.9)

# OBV pane
ax_obv.axhline(8.0, color=GRID, lw=1.2, zorder=0)
sns.lineplot(x=obv_bar, y=obv_val, ax=ax_obv, color=BLUE, lw=1.6, estimator=None, sort=False, zorder=3)
ax_obv.plot(obv_line[0::2], obv_line[1::2], color="white", lw=2.0, zorder=4)
ax_obv.set_ylim(7.086, 9.28)

# MACD pane
hist = np.array(macd_hist)
prev = np.r_[hist[0], hist[:-1]]
hcol = np.where(hist >= 0, np.where(hist >= prev, "#26a69a", "#b2dfdb"),
                np.where(hist <= prev, "#ff5252", "#ffcdd2"))
ax_macd.axhline(0, color=GRID, lw=1.2, zorder=0)
ax_macd.bar(xb, hist, width=0.7, color=hcol, lw=0, zorder=2)
sns.lineplot(x=macd_bar, y=macd_val, ax=ax_macd, color=BLUE, lw=1.9, estimator=None, sort=False, zorder=3)
sns.lineplot(x=signal_bar, y=signal_val, ax=ax_macd, color="#ff6d00", lw=1.9, estimator=None, sort=False, zorder=4)
ax_macd.set_ylim(-0.0576, 0.0450)

# panes carry no axis decorations of their own: the scales are drawn as text below
for a in (ax, ax_rsi, ax_obv, ax_macd):
    a.set_xlim(x_lo, x_hi)
    a.set_facecolor("none")
    for s in a.spines.values():
        s.set_visible(False)
    a.grid(False)
    a.set_xlabel("")
    a.set_ylabel("")
    for axis in (a.xaxis, a.yaxis):
        axis.set_major_locator(NullLocator())
        axis.set_minor_locator(NullLocator())
        axis.set_major_formatter(NullFormatter())
        axis.set_minor_formatter(NullFormatter())


def fig_y(a, v):
    """figure-fraction height of value v on axes a"""
    disp = a.transData.transform((x_lo, v))
    return fig.transFigure.inverted().transform(disp)[1]


def fig_x(a, v):
    disp = a.transData.transform((v, 1.0))
    return fig.transFigure.inverted().transform(disp)[0]


# price scale
for p in shown_ticks:
    fig.text(2914 / W, fig_y(ax, p), f"{p:.4f}", ha="right", va="center", color=TXT,
             fontsize=FS, zorder=5)

half_h = 21.5 / H
price_boxes = [(1.2260, False, BLUE, "white"),
               (0.9582, True, "#ffffff", "#131722"),
               (0.9545, False, DOWN, "white"),
               (0.8899, False, BLUE, "white"),
               (0.8431, False, "#5b9cf6", "#131722"),
               (0.7739, False, BLUE, "white")]
last_y = fig_y(ax, 0.9545)
for val, pushed, fc, tc in price_boxes:
    yc = fig_y(ax, val)
    if pushed:
        # moved up so that it sits right above the last-price badge
        yc = max(yc, last_y + 2 * half_h)
    fig.patches.append(Rectangle((2802 / W, yc - half_h), (2930 - 2802) / W, 2 * half_h,
                                 transform=fig.transFigure, fc=fc, ec="none", zorder=8))
    fig.text(2914 / W, yc, f"{val:.4f}", ha="right", va="center", color=tc,
             fontsize=FS, zorder=9)
fig.text(2880 / W, 1 - 105 / H, "USDT", ha="center", va="center", color=TXT, fontsize=FS,
         zorder=20, bbox=dict(boxstyle="round,pad=0.55,rounding_size=0.45", fc="#1e222d",
                              ec="#434651", lw=1.3))

# right scale of sub panes
fig.text(2825 / W, fig_y(ax_obv, 8.0), "8B", ha="left", va="center", color=TXT, fontsize=FS)
fig.text(2825 / W, fig_y(ax_macd, 0.0), "0.0000", ha="left", va="center", color=TXT, fontsize=FS)

# time axis labels
for t, lab in zip(tick_x, date_labels):
    fig.text(fig_x(ax_macd, t), 1 - 1186 / H, lab, ha="center", va="center",
             color=TXT, fontsize=FS)

# separators
for yy in (877, 958, 1054, 1152):
    fig.add_artist(Line2D([13 / W, 2960 / W], [1 - yy / H, 1 - yy / H], color=SEP, lw=2.2,
                          transform=fig.transFigure))
fig.add_artist(Line2D([2802 / W, 2802 / W], [1 - 66 / H, 1 - 1220 / H], color=SEP, lw=1.8,
                      transform=fig.transFigure))


def put(x, y, s, color=TXT, size=18, **kw):
    fig.text(x / W, 1 - y / H, s, color=color, fontsize=size, va="center", **kw)


put(25, 37, "AMBCrypto_TA published on TradingView.com, Dec 22, 2021 17:16 UTC+5:30",
    color="#d1d4dc", size=20)
put(45, 106, "XRP / TetherUS, 4h, BINANCE", size=19.5)
for x, s, col in [(456, "O", TXT), (477, "0.9563", DOWN), (584, "H", TXT), (604, "0.9695", DOWN),
                  (712, "L", TXT), (727, "0.9484", DOWN), (835, "C", TXT), (853, "0.9545", DOWN),
                  (958, "\u22120.0015 (\u22120.16%)", DOWN)]:
    put(x, 106, s, color=col, size=19)
put(45, 147, "20-50-200-SMA (close, 20, 50, 200)")
put(531, 147, "0.8834", color="#ff0000", size=19)
put(638, 147, "0.8404", color="#ffffff", size=19)
put(745, 147, "0.9113", color="#00ff00", size=19)

put(45, 915, "RSI (14, close)", size=19)
put(255, 915, "68.84", color="#7e57c2", size=19)
put(45, 997, "OBV", size=19)
put(119, 997, "8.144B", color=BLUE, size=19)
put(45, 1090, "MACD (12, 26, close, 9, EMA, EMA)")
put(528, 1090, "0.0087", color="#b2dfdb")
put(635, 1090, "0.0332", color=BLUE)
put(743, 1090, "0.0245", color="#ff6d00")

put(23, 1266, "TV", color="#d1d4dc", size=21, fontweight="bold")
put(84, 1266, "TradingView", color="#d1d4dc", size=20)

fig.savefig("out.png", dpi=100, facecolor=OUTER)
